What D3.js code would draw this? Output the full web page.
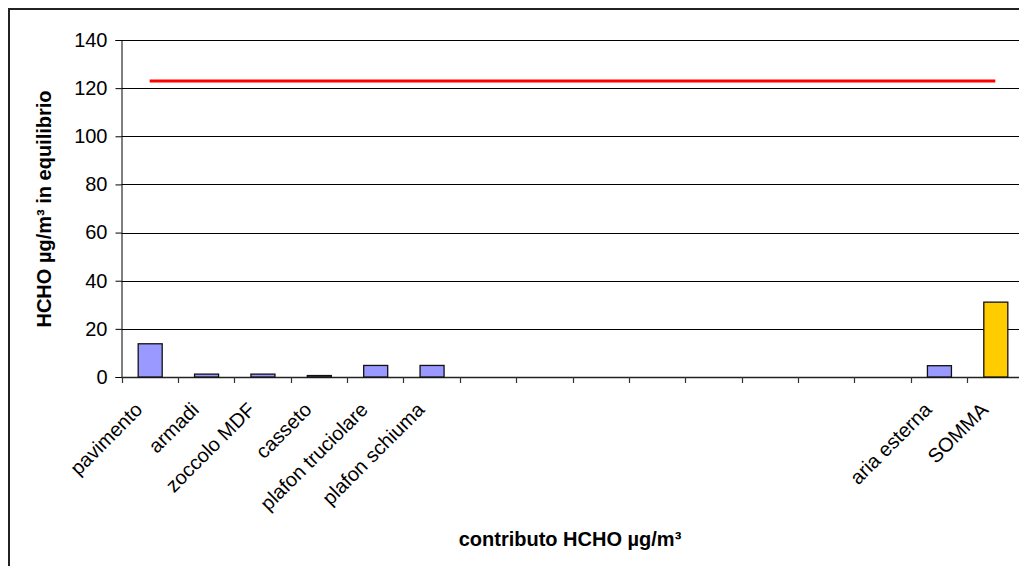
<!DOCTYPE html>
<html>
<head>
<meta charset="utf-8">
<script src="https://cdn.jsdelivr.net/npm/d3@7"></script>
<style>
  html, body { margin: 0; padding: 0; background: #fff; }
  svg { display: block; font-family: "Liberation Sans", Arial, sans-serif; }
</style>
</head>
<body>
<svg id="chart" width="1019" height="566"></svg>
<script>
// Contributions of each source to HCHO at equilibrium (µg/m³)
const categories = [
  "pavimento", "armadi", "zoccolo MDF", "casseto", "plafon truciolare", "plafon schiuma",
  "", "", "", "", "", "", "", "",
  "aria esterna", "SOMMA"
];
const contributions = [13.8, 1.2, 1.2, 0.6, 4.8, 4.8, null, null, null, null, null, null, null, null, 4.7, 31.1];
const limitValue = 123;           // reference level drawn as a red line
const yTicks = [0, 20, 40, 60, 80, 100, 120, 140];

const svg = d3.select("#chart");

// chart frame
svg.append("rect")
  .attr("x", 9).attr("y", 9)
  .attr("width", 1040).attr("height", 600)
  .attr("fill", "none").attr("stroke", "#222").attr("stroke-width", 2);

const plot = { left: 121.5, right: 1023.5, top: 40, bottom: 377 };

const idx = categories.map((_, i) => i);
const x = d3.scaleBand().domain(idx).range([plot.left, plot.right])
  .paddingInner(0.574).paddingOuter(0.287);
const step = x.step();
const y = d3.scaleLinear().domain([0, 140]).range([plot.bottom, plot.top]);

// horizontal gridlines
svg.append("g").selectAll("line").data(yTicks.filter(d => d > 0)).join("line")
  .attr("x1", plot.left).attr("x2", 1019)
  .attr("y1", d => Math.round(y(d)) + 0.5).attr("y2", d => Math.round(y(d)) + 0.5)
  .attr("stroke", "#000").attr("stroke-width", 1);

// y axis
const yAxis = svg.append("g")
  .attr("transform", `translate(${plot.left},0)`)
  .call(d3.axisLeft(y).tickValues(yTicks).tickSize(6).tickPadding(8).tickFormat(d3.format("d")));
yAxis.select(".domain").attr("stroke", "#000");
yAxis.selectAll(".tick line").attr("stroke", "#000");
yAxis.selectAll("text").attr("font-size", 20).attr("fill", "#000")
  .attr("font-family", "Liberation Sans, Arial, sans-serif");

// x axis baseline and category separators
const xAxisG = svg.append("g");
xAxisG.append("line")
  .attr("x1", plot.left).attr("x2", 1019)
  .attr("y1", plot.bottom + 0.5).attr("y2", plot.bottom + 0.5)
  .attr("stroke", "#222").attr("stroke-width", 1.5);
xAxisG.selectAll("line.sep").data(d3.range(categories.length + 1)).join("line")
  .attr("class", "sep")
  .attr("x1", i => Math.round(plot.left + i * step) + 0.5)
  .attr("x2", i => Math.round(plot.left + i * step) + 0.5)
  .attr("y1", plot.bottom).attr("y2", plot.bottom + 6)
  .attr("stroke", "#333").attr("stroke-width", 1.2);

// bars
svg.append("g").selectAll("rect")
  .data(contributions.map((v, i) => ({ v, i })).filter(d => d.v != null))
  .join("rect")
  .attr("x", d => x(d.i) + 0.5)
  .attr("y", d => y(d.v))
  .attr("width", x.bandwidth())
  .attr("height", d => y(0) - y(d.v))
  .attr("fill", d => categories[d.i] === "SOMMA" ? "#ffcc00" : "#9999ff")
  .attr("stroke", "#111").attr("stroke-width", 1.3);

// reference level line
const lineData = [0, categories.length - 1].map(i => ({ i, v: limitValue }));
svg.append("path")
  .datum(lineData)
  .attr("d", d3.line().x(d => x(d.i) + x.bandwidth() / 2).y(d => y(d.v)))
  .attr("stroke", "#ff0000").attr("stroke-width", 3).attr("fill", "none");

// category labels, rotated
svg.append("g").selectAll("text")
  .data(categories.map((c, i) => ({ c, i })).filter(d => d.c))
  .join("text")
  .attr("transform", d => `translate(${x(d.i) + x.bandwidth() / 2 - 6},${plot.bottom + 34}) rotate(-45)`)
  .attr("text-anchor", "end")
  .attr("font-size", 20)
  .attr("fill", "#000")
  .text(d => d.c);

// axis titles
svg.append("text")
  .attr("transform", `translate(51,209) rotate(-90)`)
  .attr("text-anchor", "middle")
  .attr("font-size", 20).attr("font-weight", "bold").attr("fill", "#000")
  .text("HCHO µg/m³ in equilibrio");

svg.append("text")
  .attr("x", 570).attr("y", 546)
  .attr("text-anchor", "middle")
  .attr("font-size", 20).attr("font-weight", "bold").attr("fill", "#000")
  .text("contributo HCHO µg/m³");
</script>
</body>
</html>
